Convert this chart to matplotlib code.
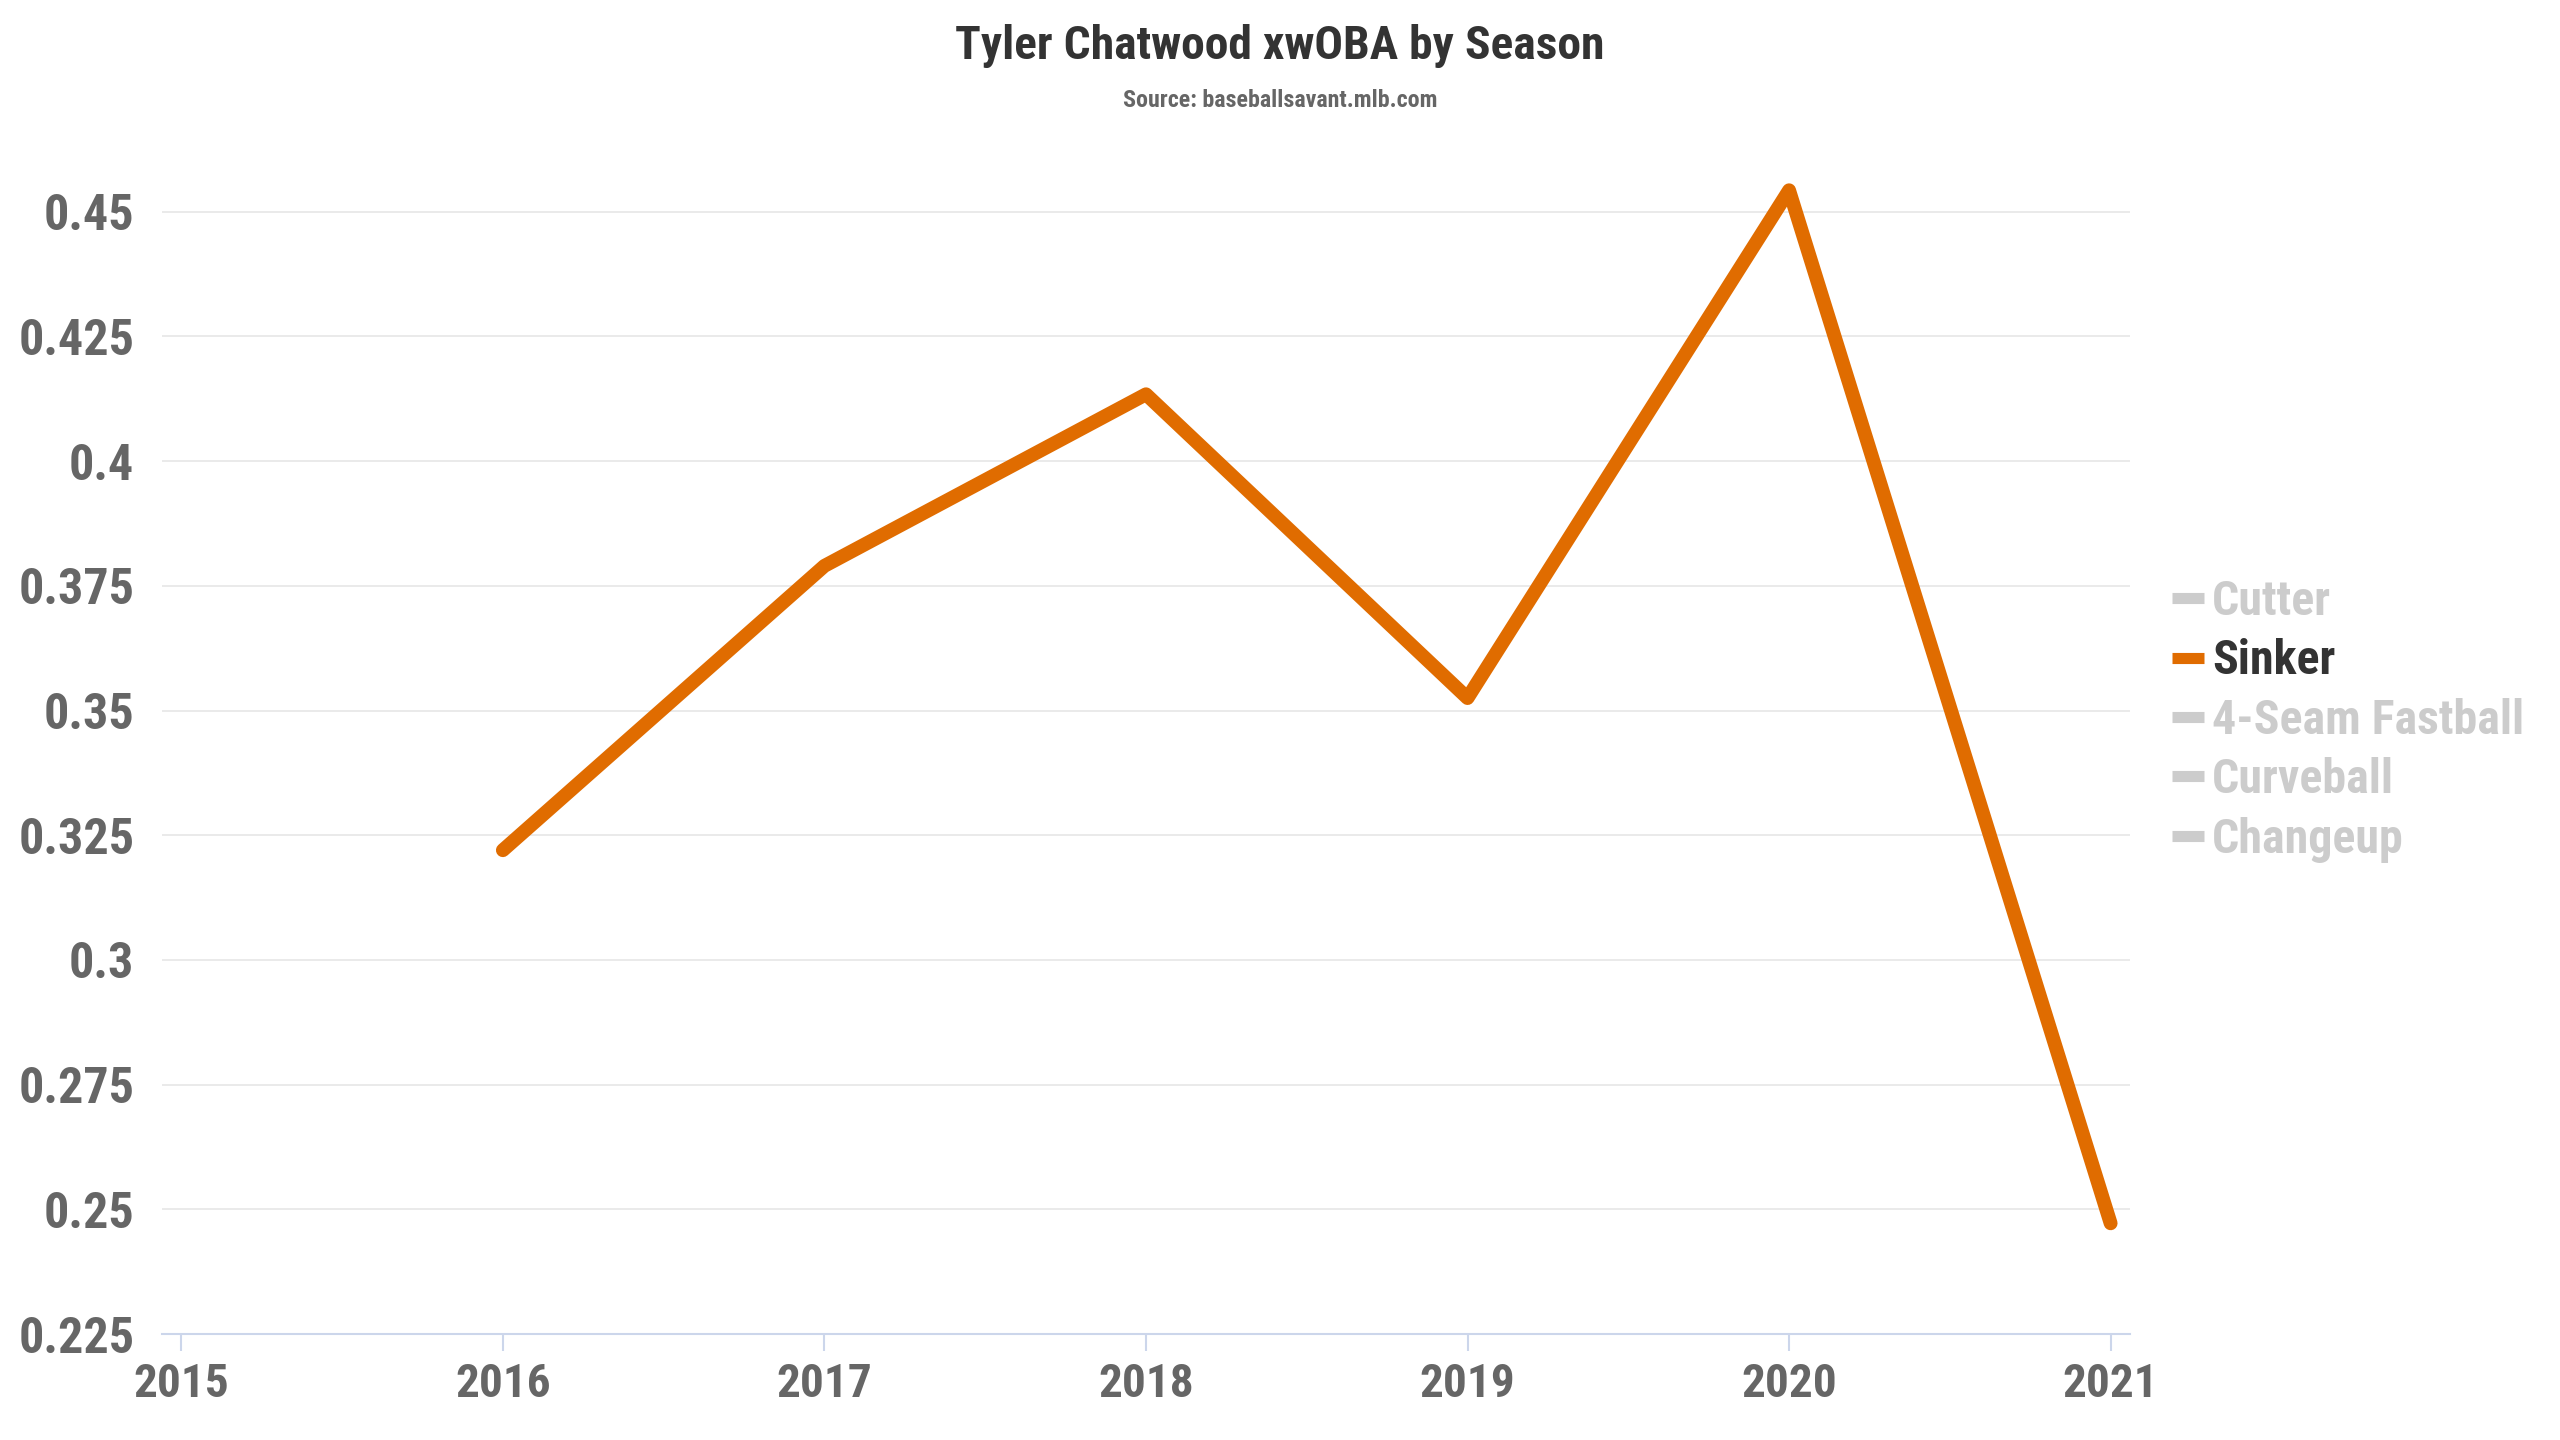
import matplotlib
matplotlib.use('Agg')
import matplotlib.pyplot as plt
from matplotlib.lines import Line2D

plt.rcParams['font.family'] = ['Roboto Condensed', 'Roboto', 'DejaVu Sans']
plt.rcParams['font.weight'] = 'bold'

seasons = [2016, 2017, 2018, 2019, 2020, 2021]
sinker_xwoba = [0.322, 0.379, 0.4134, 0.3525, 0.4543, 0.2472]
pitch_types = ['Cutter', 'Sinker', '4-Seam Fastball', 'Curveball', 'Changeup']
x_ticks = [2015, 2016, 2017, 2018, 2019, 2020, 2021]
y_ticks = [0.225, 0.25, 0.275, 0.3, 0.325, 0.35, 0.375, 0.4, 0.425, 0.45]
y_labels = ['0.225', '0.25', '0.275', '0.3', '0.325', '0.35', '0.375', '0.4', '0.425', '0.45']

orange = '#e06c00'
hidden = '#cccccc'

fig = plt.figure(figsize=(25.6, 14.4), dpi=100)
ax = fig.add_axes([0.0633, 0.0736, 0.7687, 0.814])

ax.plot(seasons, sinker_xwoba, color=orange, lw=10, solid_capstyle='round',
        solid_joinstyle='round', zorder=3)

ax.set_xlim(2014.94, 2021.06)
ax.set_ylim(0.225, 0.46)
ax.set_xticks(x_ticks)
ax.set_yticks(y_ticks)
ax.set_yticklabels(y_labels)

for v in y_ticks[1:]:
    ax.axhline(v, color='#e6e6e6', lw=1.2, zorder=1)

for s in ['top', 'right', 'left']:
    ax.spines[s].set_visible(False)
ax.spines['bottom'].set_color('#ccd6eb')
ax.spines['bottom'].set_linewidth(1.5)

ax.tick_params(axis='y', length=0, pad=20, labelsize=36, labelcolor='#666666')
ax.tick_params(axis='x', length=12, width=1.5, color='#ccd6eb', pad=8,
               labelsize=34, labelcolor='#666666')

fig.text(0.5, 0.968, 'Tyler Chatwood xwOBA by Season', ha='center', va='center',
         fontsize=34.2, color='#333333', fontweight='bold')
fig.text(0.5, 0.930, 'Source: baseballsavant.mlb.com', ha='center', va='center',
         fontsize=17.3, color='#666666', fontweight='bold')

handles = []
for p in pitch_types:
    c = orange if p == 'Sinker' else hidden
    handles.append(Line2D([0], [0], color=c, lw=8, solid_capstyle='butt'))
leg = fig.legend(handles, pitch_types, loc='center left',
                 bbox_to_anchor=(0.8484, 0.4995), frameon=False, fontsize=34.5,
                 handlelength=0.67, handletextpad=0.17, labelspacing=0.28,
                 borderaxespad=0, borderpad=0)
for t, p in zip(leg.get_texts(), pitch_types):
    t.set_color('#333333' if p == 'Sinker' else hidden)
    t.set_fontweight('bold')

fig.savefig('out.png', dpi=100)
